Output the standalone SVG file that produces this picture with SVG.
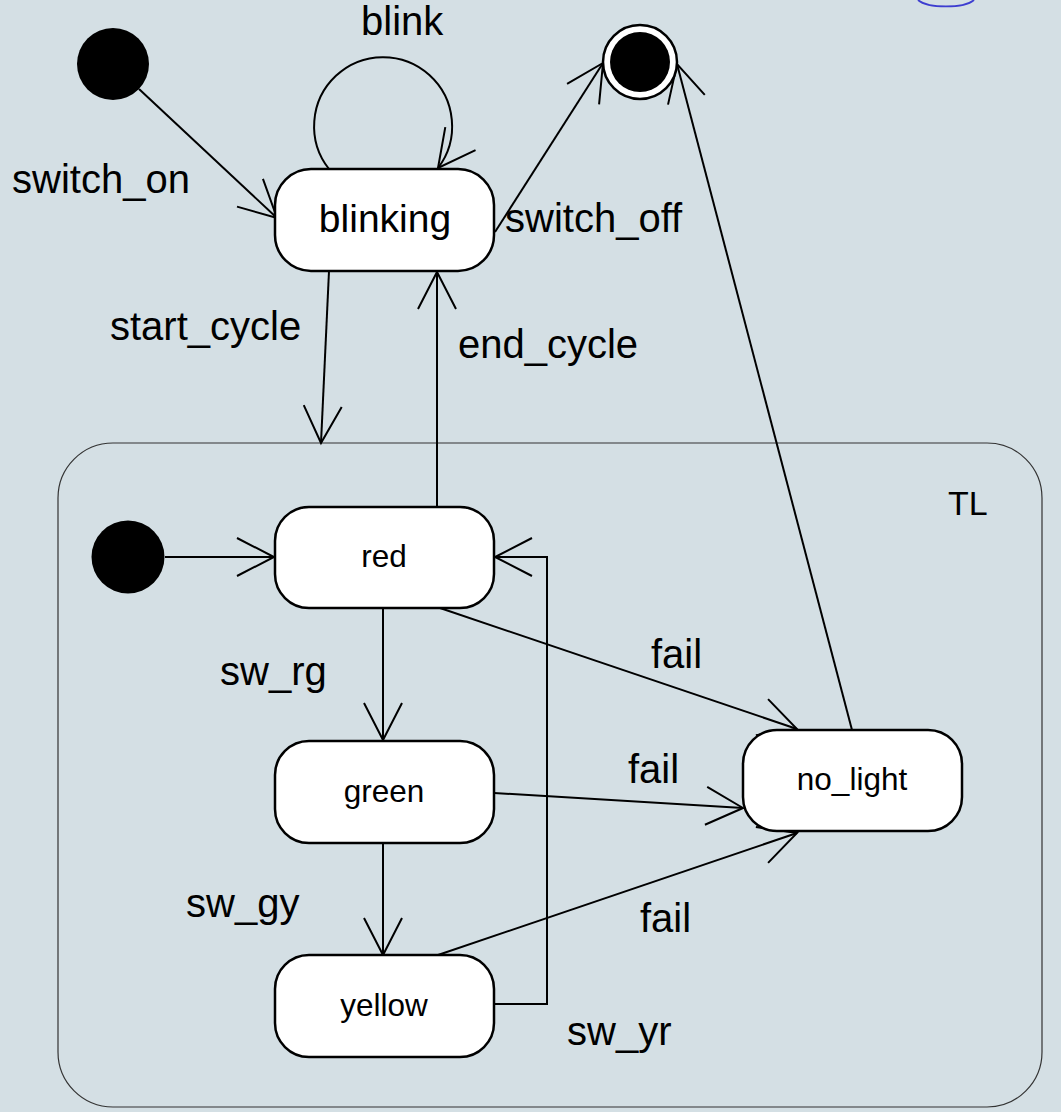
<svg xmlns="http://www.w3.org/2000/svg" width="1061" height="1112" viewBox="0 0 1061 1112">
<style>
.bg{fill:#d4dfe4}
.st{fill:#fff;stroke:#000;stroke-width:2.5}
.init{fill:#000}
.cn{fill:none;stroke:#000;stroke-width:2}
.lbl{font-family:"Liberation Sans",Arial,sans-serif;font-size:40px;fill:#000}
.nm{font-family:"Liberation Sans",Arial,sans-serif;font-size:31.5px;fill:#000;text-anchor:middle}
.big{font-family:"Liberation Sans",Arial,sans-serif;font-size:39px;fill:#000;text-anchor:middle}
</style>
<defs>
<marker id="ah" markerUnits="userSpaceOnUse" markerWidth="60" markerHeight="60" refX="0" refY="0" orient="auto" overflow="visible">
<path d="M-37,-19 L0,0 L-37,19" fill="none" stroke="#000" stroke-width="2"/>
</marker>
</defs>
<rect class="bg" x="0" y="0" width="1061" height="1112"/>
<path d="M918,0 A30,10 0 0 0 974,0" fill="none" stroke="#3d3dd0" stroke-width="1.8"/>
<g id="TL">
<rect x="58" y="443" width="984" height="664" rx="55" ry="55" fill="none" stroke="#333" stroke-width="1.2"/>
<text class="lbl" x="948" y="515" style="font-size:34px">TL</text>
</g>
<g id="connectors">
<line class="cn" x1="139" y1="89" x2="277" y2="218" marker-end="url(#ah)"/>
<path class="cn" d="M329,169 A69,69 0 1 1 438,168" marker-end="url(#ah)"/>
<line class="cn" x1="495" y1="232" x2="603" y2="63" marker-end="url(#ah)"/>
<line class="cn" x1="329" y1="271" x2="321" y2="443" marker-end="url(#ah)"/>
<line class="cn" x1="437" y1="507" x2="437" y2="272" marker-end="url(#ah)"/>
<line class="cn" x1="852" y1="730" x2="677" y2="64" marker-end="url(#ah)"/>
<line class="cn" x1="165" y1="557" x2="274" y2="557" marker-end="url(#ah)"/>
<line class="cn" x1="383" y1="608" x2="383" y2="740" marker-end="url(#ah)"/>
<line class="cn" x1="383" y1="843" x2="383" y2="955" marker-end="url(#ah)"/>
<polyline class="cn" points="494,1004 547,1004 547,557 495,557" marker-end="url(#ah)"/>
<line class="cn" x1="440" y1="608" x2="797" y2="729" marker-end="url(#ah)"/>
<line class="cn" x1="494" y1="793" x2="743" y2="808" marker-end="url(#ah)"/>
<line class="cn" x1="438" y1="955" x2="797" y2="833" marker-end="url(#ah)"/>
<text class="lbl" x="12" y="193">switch_on</text>
<text class="lbl" x="361" y="35">blink</text>
<text class="lbl" x="505" y="232">switch_off</text>
<text class="lbl" x="110" y="340">start_cycle</text>
<text class="lbl" x="458" y="358">end_cycle</text>
<text class="lbl" x="220" y="685">sw_rg</text>
<text class="lbl" x="186" y="917">sw_gy</text>
<text class="lbl" x="567" y="1045">sw_yr</text>
<text class="lbl" x="651" y="668">fail</text>
<text class="lbl" x="628" y="783">fail</text>
<text class="lbl" x="640" y="932">fail</text>
</g>
<g id="initial_top"><circle class="init" cx="113" cy="64" r="36"/></g>
<g id="final"><circle cx="640" cy="62" r="37" fill="#fff" stroke="#000" stroke-width="2.5"/><circle class="init" cx="640" cy="62" r="30"/></g>
<g id="blinking"><rect class="st" x="275" y="169" width="219" height="102" rx="36" ry="36"/><text class="big" x="385" y="232">blinking</text></g>
<g id="initial_TL"><circle class="init" cx="128" cy="557" r="36.5"/></g>
<g id="red"><rect class="st" x="275" y="507" width="219" height="101" rx="34" ry="34"/><text class="nm" x="384" y="567">red</text></g>
<g id="green"><rect class="st" x="275" y="741" width="219" height="102" rx="34" ry="34"/><text class="nm" x="384" y="802">green</text></g>
<g id="yellow"><rect class="st" x="275" y="955" width="219" height="102" rx="34" ry="34"/><text class="nm" x="384" y="1016">yellow</text></g>
<g id="no_light"><rect class="st" x="743" y="730" width="219" height="101" rx="34" ry="34"/><text class="nm" x="852" y="790">no_light</text></g>
</svg>
